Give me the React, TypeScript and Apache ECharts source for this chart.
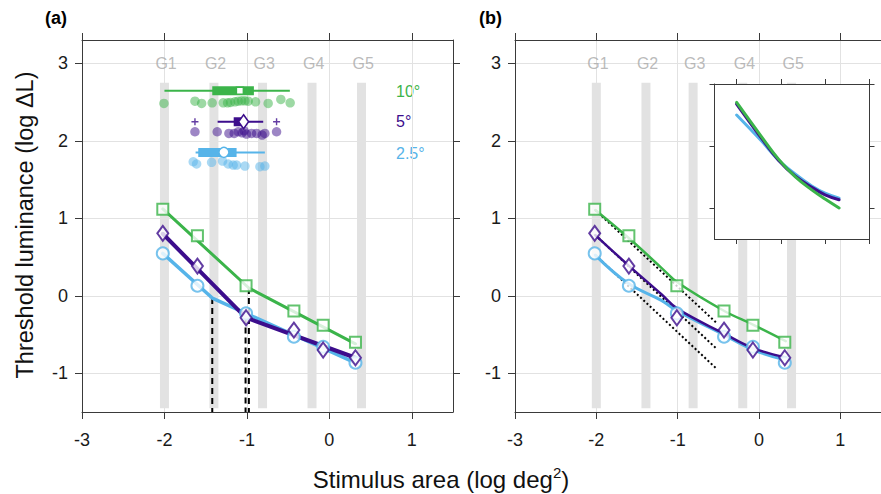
import React, { useEffect, useRef } from 'react';
import * as echarts from 'echarts';

// ---------- data ----------
const GREEN = '#3bb44a';
const PURPLE = '#3c0d8c';
const BLUE = '#56b4e9';
const AX = '#3a3a3a';
const GRIDC = '#e2e2e2';
const BARC = '#e2e2e2';
const FONT = '"Liberation Sans", Arial, Helvetica, sans-serif';

const xTicks = [-3, -2, -1, 0, 1];
const yTicks = [-1, 0, 1, 2, 3];

const groupNames = ['G1', 'G2', 'G3', 'G4', 'G5'];
const groupXa = [-2.0, -1.4, -0.81, -0.21, 0.39];
const groupXb = [-2.0, -1.39, -0.81, -0.2, 0.4];

const areaX = [-2.02, -1.6, -1.01, -0.43, -0.075, 0.317];
const thr10 = [1.115, 0.774, 0.129, -0.197, -0.38, -0.6];
const thr5 = [0.805, 0.383, -0.284, -0.443, -0.7, -0.8];
const thr25 = [0.547, 0.129, -0.227, -0.529, -0.658, -0.865];

// bilinear fits in (a): start, breakpoint, end
const fitX10 = [-2.02, -0.976, 0.317];
const fitY10 = [1.12, 0.1, -0.62];
const fitX5 = [-2.02, -1.016, 0.317];
const fitY5 = [0.8, -0.28, -0.8];
const fitX25 = [-2.02, -1.42, 0.317];
const fitY25 = [0.547, -0.03, -0.865];

// breakpoint box plots: [row y, whisker lo, q1, q3, whisker hi, median]
const box10 = [2.645, -2.0, -1.42, -0.915, -0.479, -1.085];
const box5 = [2.245, -1.355, -1.16, -1.02, -0.802, -1.04];
const box25 = [1.85, -1.622, -1.59, -1.125, -0.782, -1.279];
const out5X = [-1.63, -0.64];
const out5Y = [2.245, 2.245];

const dots10X = [-2.006, -1.63, -1.549, -1.421, -1.287, -1.234, -1.198, -1.145, -1.105, -1.064, -1.024, -0.984, -0.895, -0.742, -0.588, -0.475];
const dots10Y = [2.482, 2.511, 2.482, 2.49, 2.49, 2.49, 2.495, 2.503, 2.511, 2.515, 2.515, 2.511, 2.503, 2.482, 2.533, 2.49];
const dots5X = [-1.63, -1.36, -1.218, -1.154, -1.105, -1.057, -1.033, -1.004, -0.943, -0.882, -0.815, -0.782, -0.64];
const dots5Y = [2.116, 2.116, 2.095, 2.095, 2.116, 2.103, 2.129, 2.086, 2.095, 2.095, 2.074, 2.095, 2.116];
const dots25X = [-1.651, -1.61, -1.428, -1.295, -1.227, -1.166, -1.125, -1.024, -0.842, -0.782];
const dots25Y = [1.729, 1.7, 1.721, 1.738, 1.7, 1.686, 1.686, 1.674, 1.665, 1.674];

// (b) smooth fits
const curveX = [-2.013, -1.609, -1.2, -1.0, -0.427, -0.063, 0.329];
const curve10 = [1.106, 0.751, 0.36, 0.17, -0.197, -0.378, -0.585];
const curve5 = [0.783, 0.396, 0.02, -0.17, -0.49, -0.68, -0.795];
const curve25 = [0.525, 0.16, -0.06, -0.2, -0.507, -0.7, -0.83];

// (b) slope -1 reference lines: [x0, y0, x1, y1]
const ref10 = [-2.013, 1.106, -0.517, -0.356];
const ref5 = [-2.013, 0.783, -0.517, -0.688];
const ref25 = [-2.013, 0.525, -0.517, -0.946];

// inset: aligned curves
const insetX = [0, 0.568, 0.945, 1.32, 1.696, 1.997, 2.313];
const inset10 = [1.703, 1.144, 0.788, 0.505, 0.292, 0.144, 0];
const inset5 = [1.677, 1.118, 0.772, 0.516, 0.335, 0.212, 0.133];
const inset25 = [1.5, 1.075, 0.772, 0.548, 0.356, 0.24, 0.16];

// ---------- helpers ----------
const zip = (xs: number[], ys: number[]) => xs.map((x, i) => [x, ys[i]]);

const axLine = { show: true, onZero: false, lineStyle: { color: AX, width: 1 } };
const TICKFONT = 18;

function xAxisDef(grid: number, pos: 'top' | 'bottom', main: boolean) {
  return {
    type: 'value', gridIndex: grid, position: pos, min: -3, max: 1.5,
    minInterval: 1, maxInterval: 1,
    axisLine: axLine,
    axisTick: { show: true, inside: false, length: 7, lineStyle: { color: AX }, customValues: xTicks },
    axisLabel: main
      ? { show: true, margin: 19, fontSize: TICKFONT, color: '#1a1a1a', fontFamily: FONT, customValues: xTicks }
      : { show: false },
    splitLine: { show: main, lineStyle: { color: GRIDC, width: 1 } },
  };
}
function yAxisDef(grid: number, pos: 'left' | 'right', main: boolean) {
  return {
    type: 'value', gridIndex: grid, position: pos, min: -1.5, max: 3.3,
    minInterval: 1, maxInterval: 1,
    axisLine: axLine,
    axisTick: { show: true, inside: false, length: 7, lineStyle: { color: AX }, customValues: yTicks },
    axisLabel: main
      ? { show: true, margin: 14, fontSize: TICKFONT, color: '#1a1a1a', fontFamily: FONT, customValues: yTicks }
      : { show: false },
    splitLine: { show: main, lineStyle: { color: GRIDC, width: 1 } },
  };
}
function insetX_(pos: 'top' | 'bottom') {
  return {
    type: 'value', gridIndex: 2, position: pos, min: -0.5, max: 3, z: 7,
    axisLine: axLine,
    axisTick: { show: true, inside: false, length: 5, lineStyle: { color: AX }, customValues: [0, 1, 2, 3] },
    axisLabel: { show: false }, splitLine: { show: false },
  };
}
function insetY_(pos: 'left' | 'right') {
  return {
    type: 'value', gridIndex: 2, position: pos, min: -0.5, max: 2, z: 7,
    axisLine: axLine,
    axisTick: { show: true, inside: false, length: 5, lineStyle: { color: AX }, customValues: [0, 1, 2] },
    axisLabel: { show: false }, splitLine: { show: false },
  };
}

function barSeries(xi: number, yi: number, xs: number[]) {
  return {
    type: 'custom', xAxisIndex: xi, yAxisIndex: yi, z: 1, silent: true,
    data: xs.map((x) => [x]),
    renderItem: (_p: any, api: any) => {
      const x = api.value(0);
      const a = api.coord([x, 2.75]);
      const b = api.coord([x, -1.45]);
      return { type: 'rect', shape: { x: a[0] - 4.5, y: a[1], width: 9, height: b[1] - a[1] }, style: { fill: BARC } };
    },
  };
}
function groupLabels(xi: number, yi: number, xs: number[]) {
  return {
    type: 'scatter', xAxisIndex: xi, yAxisIndex: yi, symbolSize: 0, silent: true, z: 3,
    data: xs.map((x, i) => ({ value: [x + 0.02, 3], name: groupNames[i] })),
    label: { show: true, position: 'inside', formatter: (p: any) => p.name, color: '#a9a9a9', fontSize: 16, fontFamily: FONT },
  };
}
function boxSeries(stats: number[], color: string, med: 'square' | 'diamond' | 'circle') {
  return {
    type: 'custom', xAxisIndex: 0, yAxisIndex: 0, z: 4, silent: true,
    data: [stats],
    renderItem: (_p: any, api: any) => {
      const y = api.value(0);
      const lo = api.coord([api.value(1), y]);
      const q1 = api.coord([api.value(2), y]);
      const q3 = api.coord([api.value(3), y]);
      const hi = api.coord([api.value(4), y]);
      const md = api.coord([api.value(5), y]);
      const children: any[] = [
        { type: 'line', shape: { x1: lo[0], y1: lo[1], x2: hi[0], y2: hi[1] }, style: { stroke: color, lineWidth: 2 } },
        { type: 'rect', shape: { x: q1[0], y: q1[1] - 4.5, width: q3[0] - q1[0], height: 9 }, style: { fill: color } },
      ];
      if (med === 'square') {
        children.push({ type: 'rect', shape: { x: md[0] - 3.5, y: md[1] - 3.5, width: 7, height: 7 }, style: { fill: '#fff', stroke: color, lineWidth: 1.5 } });
      } else if (med === 'diamond') {
        children.push({ type: 'polygon', shape: { points: [[md[0], md[1] - 7], [md[0] + 5, md[1]], [md[0], md[1] + 7], [md[0] - 5, md[1]]] }, style: { fill: '#fff', stroke: color, lineWidth: 1.5 } });
      } else {
        children.push({ type: 'circle', shape: { cx: md[0], cy: md[1], r: 5 }, style: { fill: '#fff', stroke: color, lineWidth: 1.5 } });
      }
      return { type: 'group', children };
    },
  };
}
function dotSeries(xs: number[], ys: number[], color: string) {
  return {
    type: 'scatter', xAxisIndex: 0, yAxisIndex: 0, z: 3, silent: true,
    symbol: 'circle', symbolSize: 9.5,
    itemStyle: { color, opacity: 0.5 },
    data: zip(xs, ys),
  };
}
function lineSeries(xi: number, yi: number, data: number[][], color: string, width: number, smooth: any, z = 2) {
  return {
    type: 'line', xAxisIndex: xi, yAxisIndex: yi, z, silent: true,
    data, showSymbol: false, symbol: 'none', smooth,
    lineStyle: { color, width, cap: 'round', join: 'round' },
  };
}
function markerSeries(xi: number, yi: number, color: string, symbol: string, size: any, ys: number[]) {
  return {
    type: 'scatter', xAxisIndex: xi, yAxisIndex: yi, z: 2, silent: true,
    symbol, symbolSize: size,
    itemStyle: { color: '#fff', borderColor: color, borderWidth: 2 },
    data: zip(areaX, ys),
  };
}
function dashedBreak(x: number, y: number) {
  return {
    type: 'line', xAxisIndex: 0, yAxisIndex: 0, z: 2, silent: true, symbol: 'none',
    data: [[x, y], [x, -1.5]],
    lineStyle: { color: '#000', width: 2, type: [6, 4] },
  };
}
function refLine(r: number[]) {
  return {
    type: 'line', xAxisIndex: 2, yAxisIndex: 2, z: 2, silent: true, symbol: 'none',
    data: [[r[0], r[1]], [r[2], r[3]]],
    lineStyle: { color: '#000', width: 2, type: [2, 2.4] },
  };
}

export default function App() {
  const ref = useRef<HTMLDivElement>(null);
  useEffect(() => {
    if (!ref.current) return;
    const chart = echarts.init(ref.current, undefined, { renderer: 'svg' });
    const option: any = {
      animation: false,
      backgroundColor: '#ffffff',
      textStyle: { fontFamily: FONT },
      grid: [
        { left: 82, top: 40, width: 371, height: 372 },
        { left: 515, top: 40, width: 371, height: 372 },
        { left: 714.5, top: 84, width: 155, height: 155 },
      ],
      xAxis: [
        xAxisDef(0, 'bottom', true), xAxisDef(0, 'top', false),
        xAxisDef(1, 'bottom', true), xAxisDef(1, 'top', false),
        insetX_('bottom'), insetX_('top'),
      ],
      yAxis: [
        yAxisDef(0, 'left', true), yAxisDef(0, 'right', false),
        yAxisDef(1, 'left', true), yAxisDef(1, 'right', false),
        insetY_('left'), insetY_('right'),
      ],
      series: [
        // panel a
        barSeries(0, 0, groupXa),
        groupLabels(0, 0, groupXa),
        dashedBreak(fitX25[1], fitY25[1]),
        dashedBreak(fitX5[1], fitY5[1]),
        dashedBreak(fitX10[1], fitY10[1]),
        lineSeries(0, 0, zip(fitX25, fitY25), BLUE, 3.5, false),
        markerSeries(0, 0, BLUE, 'circle', 12, thr25),
        lineSeries(0, 0, zip(fitX5, fitY5), PURPLE, 4, false),
        markerSeries(0, 0, PURPLE, 'diamond', [11, 15], thr5),
        lineSeries(0, 0, zip(fitX10, fitY10), GREEN, 3, false),
        markerSeries(0, 0, GREEN, 'rect', 11, thr10),
        dotSeries(dots10X, dots10Y, GREEN),
        dotSeries(dots5X, dots5Y, PURPLE),
        dotSeries(dots25X, dots25Y, BLUE),
        boxSeries(box10, GREEN, 'square'),
        boxSeries(box5, PURPLE, 'diamond'),
        boxSeries(box25, BLUE, 'circle'),
        {
          type: 'scatter', xAxisIndex: 0, yAxisIndex: 0, z: 4, silent: true,
          symbol: 'path://M4,0h2v10h-2zM0,4h10v2h-10z', symbolSize: 7,
          itemStyle: { color: PURPLE }, data: zip(out5X, out5Y),
        },
        // panel b
        barSeries(2, 2, groupXb),
        groupLabels(2, 2, groupXb),
        refLine(ref10), refLine(ref5), refLine(ref25),
        lineSeries(2, 2, zip(curveX, curve25), BLUE, 3, 0.4),
        markerSeries(2, 2, BLUE, 'circle', 12, thr25),
        lineSeries(2, 2, zip(curveX, curve5), PURPLE, 2.5, 0.4),
        markerSeries(2, 2, PURPLE, 'diamond', [11, 15], thr5),
        lineSeries(2, 2, zip(curveX, curve10), GREEN, 2.5, 0.4),
        markerSeries(2, 2, GREEN, 'rect', 11, thr10),
        // inset
        {
          type: 'custom', xAxisIndex: 4, yAxisIndex: 4, z: 5, silent: true, data: [[0, 0]],
          renderItem: (p: any) => {
            const c = p.coordSys;
            return { type: 'rect', shape: { x: c.x, y: c.y, width: c.width, height: c.height }, style: { fill: '#fff' } };
          },
        },
        lineSeries(4, 4, zip(insetX, inset25), BLUE, 3, 0.4, 6),
        lineSeries(4, 4, zip(insetX, inset5), PURPLE, 3, 0.4, 6),
        lineSeries(4, 4, zip(insetX, inset10), GREEN, 3, 0.4, 6),
      ],
      graphic: [
        { type: 'text', left: 45, top: 9, style: { text: '(a)', font: `bold 18px ${FONT}`, fill: '#000' } },
        { type: 'text', left: 479, top: 9, style: { text: '(b)', font: `bold 18px ${FONT}`, fill: '#000' } },
        { type: 'text', x: 396, y: 91, style: { text: '10°', font: `16px ${FONT}`, fill: GREEN, textVerticalAlign: 'middle' } },
        { type: 'text', x: 396, y: 121, style: { text: '5°', font: `16px ${FONT}`, fill: PURPLE, textVerticalAlign: 'middle' } },
        { type: 'text', x: 396, y: 153, style: { text: '2.5°', font: `16px ${FONT}`, fill: BLUE, textVerticalAlign: 'middle' } },
        {
          type: 'text', x: 25, y: 225, rotation: Math.PI / 2,
          style: { text: 'Threshold luminance (log ΔL)', font: `23.5px ${FONT}`, fill: '#111', textAlign: 'center', textVerticalAlign: 'middle' },
        },
        {
          type: 'text', x: 441, y: 479,
          style: {
            text: '{a|Stimulus area (log deg}{s|2}{a|)}',
            textAlign: 'center', textVerticalAlign: 'middle',
            rich: {
              a: { fontSize: 24, fontFamily: FONT, fill: '#111', color: '#111' },
              s: { fontSize: 15, fontFamily: FONT, fill: '#111', color: '#111', padding: [0, 0, 13, 0] },
            },
          },
        },
      ],
    };
    chart.setOption(option);
    return () => chart.dispose();
  }, []);
  return <div ref={ref} style={{ position: 'absolute', left: 0, top: 0, width: 881, height: 494 }} />;
}
